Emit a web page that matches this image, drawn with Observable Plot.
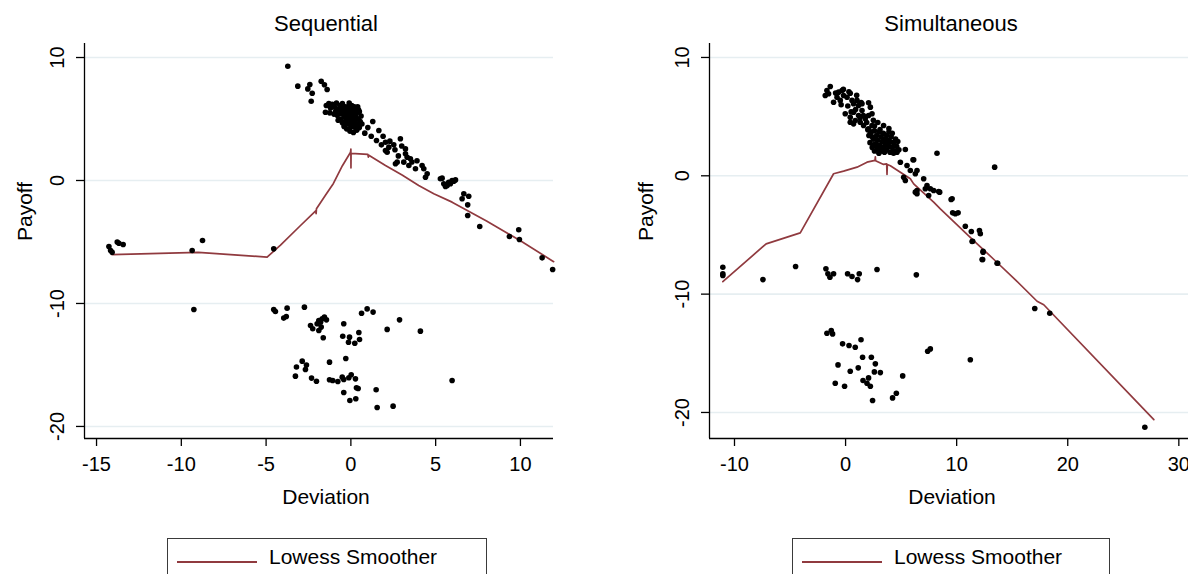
<!DOCTYPE html>
<html><head><meta charset="utf-8">
<script src="https://cdn.jsdelivr.net/npm/d3@7"></script>
<script src="https://cdn.jsdelivr.net/npm/@observablehq/plot@0.6"></script>
<style>
html,body{margin:0;padding:0;background:#fff;overflow:hidden;}
body{width:1188px;height:574px;font-family:"Liberation Sans",Arial,sans-serif;color:#000;}
#wrap{display:flex;width:1188px;}
.panel{width:594px;position:relative;flex:none;}
.title{height:43px;box-sizing:border-box;padding-top:12px;font-size:22px;line-height:24px;position:relative;white-space:nowrap;}
.title span{position:absolute;transform:translateX(-50%);}
.legend{position:relative;height:41px;}
.legbox{position:absolute;top:5px;height:46px;border:1px solid #3a3a3a;box-sizing:border-box;background:#fff;}
.legline{position:absolute;left:9px;top:22px;width:80px;height:2px;background:#903a3f;}
.legtext{position:absolute;left:101px;top:6px;font-size:21px;line-height:24px;white-space:nowrap;}
svg{overflow:visible;}
</style></head>
<body><div id="wrap"></div>
<script>
const titles = ["Sequential", "Simultaneous"];
const xLabel = "Deviation";
const yLabel = "Payoff";
const legendLabel = "Lowess Smoother";
const seqXTicks = [-15, -10, -5, 0, 5, 10];
const simXTicks = [-10, 0, 10, 20, 30];
const yTicks = [-20, -10, 0, 10];

const seqPoints = [
[-14.27,-5.37],[-14.17,-5.69],[-14.08,-5.83],[-13.78,-5.01],[-13.68,-5.1],[-13.43,-5.2],
[-9.36,-5.69],[-8.75,-4.88],[-9.26,-10.49],[-4.55,-5.56],[-4.55,-10.5],
[-3.72,9.29],[-3.13,7.67],[-2.42,7.8],[-2.54,7.45],[-2.28,7.1],[-2.34,6.45],[-1.75,8.07],[-1.56,7.78],[-1.40,7.40],
[-1.5,5.55],[-1.45,6.1],[-1.3,6.25],[-1.2,5.9],[-1.1,6.2],[-0.95,5.95],[-0.9,5.6],[-0.85,6.3],[-0.8,5.3],[-0.7,5.8],
[-0.65,6.1],[-0.6,5.0],[-0.55,5.45],[-0.5,6.25],[-0.5,4.7],[-0.45,5.9],[-0.4,5.2],[-0.4,4.4],[-0.35,5.6],[-0.3,6.0],
[-0.3,4.9],[-0.25,4.2],[-0.2,5.35],[-0.2,5.8],[-0.15,4.6],[-0.1,6.3],[-0.1,5.05],[-0.05,4.0],[-0.05,5.5],[0,4.8],
[0,5.9],[0,4.35],[0.05,5.2],[0.05,6.1],[0.1,4.55],[0.1,5.65],[0.15,3.9],[0.15,5.0],[0.2,5.4],[0.2,6.0],
[0.25,4.3],[0.25,4.75],[0.3,5.8],[0.3,5.15],[0.35,4.1],[0.35,5.5],[0.4,4.6],[0.4,6.0],[0.45,5.0],[0.5,4.3],
[0.5,5.6],[0.55,4.8],[0.6,5.25],[-0.25,5.0],[0.05,4.6],[-0.15,5.7],[0.2,4.95],[-0.35,4.7],[0.1,5.3],[0.3,4.5],
[-0.05,6.0],[0.45,5.75],[-0.6,5.6],[-1.0,5.4],[-0.75,4.9],[0.65,4.6],[-1.25,5.5],
[1.29,4.8],[0.82,3.85],[1.65,4.07],[1.51,3.25],[2.04,3.11],[2.24,2.71],[2.92,3.39],[2.53,2.9],[2.04,2.44],[3.22,2.57],
[3.32,1.89],[2.73,1.49],[3.81,0.95],[4.2,1.22],[4.4,0.27],[2.14,2.3],[2.63,1.36],[3.12,1.49],[3.51,1.76],[3.22,2.17],
[3.42,1.22],[4.3,0.95],[4.5,0.54],[1.0,4.3],[1.2,3.6],[1.9,3.6],[2.3,3.2],[1.8,2.9],[2.6,2.5],[2.8,2.0],[3.0,2.8],[3.6,1.5],[3.9,1.6],
[5.28,0.14],[5.48,-0.27],[5.58,-0.49],[5.77,-0.14],[6.07,-0.06],[5.87,-0.27],[5.38,0.19],[5.68,-0.41],[5.97,0],[6.17,0.05],
[6.66,-1.08],[6.56,-1.49],[6.95,-1.28],[6.89,-1.98],[6.89,-2.85],[7.6,-3.74],[9.35,-4.55],[9.9,-4.01],[9.94,-4.8],[11.28,-6.29],[11.9,-7.24],
[-4.45,-10.65],[-3.76,-10.38],[-3.96,-11.19],[-3.81,-11.06],[-2.74,-10.3],[-2.38,-11.79],[-2.25,-12.06],[-1.99,-11.65],[-1.89,-11.38],[-1.79,-11.52],
[-1.69,-11.24],[-1.56,-11.11],[-1.44,-11.33],[-1.89,-12.2],[-1.75,-11.92],[-1.63,-12.79],[-0.42,-11.65],[-0.48,-12.66],[-0.08,-12.74],[-0.14,-13.15],
[0.23,-13.23],[0.51,-12.93],[0.47,-12.36],[0.63,-10.79],[0.96,-10.44],[1.31,-10.7],[2.14,-12.11],[2.87,-11.33],[4.1,-12.25],
[-2.87,-14.69],[-2.62,-15.01],[-3.21,-15.17],[-2.68,-15.37],[-3.27,-15.91],[-2.32,-16.07],[-2.03,-16.32],[-1.26,-14.77],[-0.3,-14.47],[-1.26,-16.2],
[-1.07,-16.26],[-0.77,-16.34],[-0.51,-15.99],[-0.42,-16.18],[-0.12,-16.04],[0.02,-15.8],[0.27,-16.13],[0.33,-16.85],[0.43,-16.91],[-0.42,-17.24],
[1.49,-17.02],[-0.06,-17.89],[0.29,-17.75],[1.55,-18.46],[2.49,-18.35],[5.97,-16.26]
];
const seqSmooth = [
[-14.1,-6.02],[-9,-5.85],[-4.94,-6.23],[-4.15,-5.25],[-3,-3.7],[-2.06,-2.45],[-2.05,-2.7],[-2.03,-2.3],[-1.5,-1.2],[-1.03,-0.24],
[-0.5,1.2],[-0.02,2.3],[0,2.55],[0.005,1.03],[0.012,2.2],[1.0,2.12],[1.03,1.9],[1.06,2.05],[2.04,1.22],[3.02,0.45],
[4.0,-0.4],[4.89,-1.08],[5.97,-1.76],[8,-3.3],[10,-4.9],[11.96,-6.6]
];

const simPoints = [
[-11.05,-7.73],[-11.05,-8.28],[-11.05,-8.43],[-7.44,-8.77],[-4.5,-7.67],[-1.77,-7.86],[-1.59,-8.28],[-1.41,-8.57],[-1.08,-8.28],
[0.18,-8.28],[0.58,-8.51],[1.08,-8.77],[1.23,-8.28],[2.83,-7.92],[6.37,-8.37],
[-1.68,-13.3],[-1.29,-13.08],[-1.17,-13.36],[-0.27,-14.2],[0.31,-14.34],[0.87,-14.49],[1.39,-13.86],[-0.68,-15.98],[0.42,-16.52],
[1.14,-16.23],[1.53,-15.33],[2.32,-15.33],[2.68,-15.89],[2.59,-16.57],[3.13,-16.63],[2.07,-17.08],[1.57,-17.3],[1.93,-17.53],
[2.23,-17.79],[-0.93,-17.53],[-0.09,-17.79],[2.43,-18.99],[5.14,-16.91],[4.23,-18.77],[4.57,-18.38],[7.39,-14.83],[7.63,-14.63],
[11.23,-15.55],[26.94,-21.25],
[-1.83,6.79],[-1.68,7.21],[-1.38,7.55],[-1.53,6.93],[-1.08,6.22],[-0.77,6.64],[-0.63,7.07],[-0.32,7.21],[-0.48,6.37],[-0.18,6.79],
[0.13,6.64],[0.42,6.98],[0.58,6.37],[0.72,6.09],[1.03,6.37],[1.17,5.94],[1.48,6.09],[2.07,6.17],[2.23,5.8],
[-0.03,5.24],[0.42,4.95],[0.72,5.38],[0.87,4.67],[1.17,5.1],[1.48,5.52],[1.77,4.82],[2.07,5.1],[2.38,5.24],[0.72,4.39],
[1.32,4.53],[0.42,4.53],[1.62,4.25],[2.07,3.97],[2.38,4.25],[2.23,3.69],[3.42,4.25],
[0.9,5.6],[1.3,4.9],[1.9,4.5],[2.5,4.7],[2.0,3.9],[1.6,5.1],[0.2,5.9],[0.5,5.4],[-0.4,6.0],[-0.9,7.0],[-0.2,7.3],[0.3,7.1],
[1.0,6.8],[1.4,6.2],[2.6,4.2],[2.9,4.5],[3.9,4.0],
[2.1,3.4],[2.2,2.8],[2.3,3.7],[2.4,2.4],[2.5,3.1],[2.6,3.8],[2.6,2.1],[2.7,2.7],[2.8,3.4],[2.9,2.3],
[2.9,3.0],[3.0,3.7],[3.0,1.9],[3.1,2.6],[3.2,3.3],[3.2,2.1],[3.3,2.9],[3.4,3.6],[3.4,2.4],[3.5,3.1],
[3.5,2.0],[3.6,2.7],[3.7,3.4],[3.7,2.2],[3.8,3.0],[3.9,2.5],[3.9,3.7],[4.0,2.0],[4.0,2.9],[4.1,3.3],
[4.2,2.4],[4.3,2.8],[4.4,2.1],[4.5,3.1],[4.6,2.5],[4.7,2.9],[4.8,2.2],[2.8,2.5],[3.3,2.3],[3.6,3.0],
[2.4,3.3],[3.1,3.9],[4.2,3.6],[3.8,2.6],[2.5,2.6],
[4.93,1.15],[5.53,0.87],[6.13,1.35],[5.83,0.45],[6.43,0.45],[6.28,0.17],[5.23,-0.12],[7.03,-0.25],[7.33,-0.82],[7.18,-1.1],
[7.93,-1.24],[8.38,-1.33],[6.43,-1.24],[7.48,-1.67],[9.59,-1.94],[5.38,2.22],[8.23,1.91],[4.63,2.0],[13.42,0.73],[9.5,-2.0],
[9.64,-3.13],[9.88,-3.21],[10.13,-3.13],[10.78,-4.26],[11.32,-4.71],[12.05,-4.62],[12.13,-4.9],[11.44,-5.53],[12.38,-6.37],[12.34,-7.07],
[13.64,-7.39],[11.39,-5.55],[12.38,-6.46],[12.29,-7.07],[13.69,-7.39],[17.03,-11.22],[18.38,-11.61],[5.38,-0.4],[6.28,-1.38],[6.43,-1.52],
[7.63,-1.1],[8.47,-1.38],[4.32,1.91],[6.07,1.35]
];
const simSmooth = [
[-11.05,-8.94],[-7.15,-5.75],[-4.08,-4.82],[-1.08,0.17],[-0.18,0.39],[1.03,0.73],[1.93,1.15],[2.65,1.3],[2.68,1.6],[2.7,1.28],
[3.42,0.96],[3.7,1.0],[3.73,0.11],[3.76,0.95],[4.03,0.85],[4.93,0.3],[5.83,-0.25],[6.13,-0.68],[7.93,-2.23],[8.53,-2.8],
[11.53,-5.47],[13.5,-7.2],[15.29,-8.79],[17.24,-10.6],[17.84,-10.9],[27.75,-20.6]
];

const panels = [
  {title: titles[0], titleX: 326, points: seqPoints, smooth: seqSmooth, xTicks: seqXTicks,
   xDomain: [-15.71, 11.95], yDomain: [-20.98, 11.14], marginLeft: 84, marginRight: 41,
   xLabelDx: 7, yLabelDx: -59, legLeft: 167, legWidth: 320},
  {title: titles[1], titleX: 357, points: simPoints, smooth: simSmooth, xTicks: simXTicks,
   xDomain: [-12.25, 30.87], yDomain: [-22.2, 11.18], marginLeft: 115, marginRight: 0,
   xLabelDx: 3, yLabelDx: -63, legLeft: 198, legWidth: 318}
];

const fmt = d => String(d);
const wrap = document.getElementById("wrap");
for (const p of panels) {
  const div = document.createElement("div");
  div.className = "panel";
  const t = document.createElement("div");
  t.className = "title";
  const ts = document.createElement("span");
  ts.style.left = p.titleX + "px";
  ts.textContent = p.title;
  t.appendChild(ts);
  div.appendChild(t);

  const chart = Plot.plot({
    width: 594, height: 490,
    marginLeft: p.marginLeft, marginRight: p.marginRight, marginTop: 0, marginBottom: 95,
    x: {domain: p.xDomain},
    y: {domain: p.yDomain},
    style: {fontFamily: "'Liberation Sans', Arial, sans-serif", fontSize: "20px", color: "#000", background: "transparent", overflow: "visible"},
    marks: [
      Plot.gridY(yTicks, {stroke: "#e6eef1", strokeOpacity: 1, strokeWidth: 1.6}),
      Plot.ruleX([p.xDomain[0]], {stroke: "#000", strokeWidth: 1.3}),
      Plot.ruleY([p.yDomain[0]], {stroke: "#000", strokeWidth: 1.3}),
      Plot.axisX(p.xTicks, {tickSize: 8, tickPadding: 10, tickFormat: fmt, label: null, fontSize: 20, strokeWidth: 1.3}),
      Plot.axisY(yTicks, {tickSize: 8, tickRotate: -90, tickPadding: 13, tickFormat: fmt, label: null, fontSize: 20, strokeWidth: 1.3}),
      Plot.text([xLabel], {frameAnchor: "bottom", dy: 65, dx: p.xLabelDx, fontSize: 21}),
      Plot.text([yLabel], {frameAnchor: "left", dx: p.yLabelDx, rotate: -90, fontSize: 21}),
      Plot.line(p.smooth, {x: d => d[0], y: d => d[1], stroke: "#903a3f", strokeWidth: 1.7}),
      Plot.dot(p.points, {x: d => d[0], y: d => d[1], r: 2.8, fill: "#000", stroke: "none"})
    ]
  });
  div.appendChild(chart);

  const leg = document.createElement("div");
  leg.className = "legend";
  const box = document.createElement("div");
  box.className = "legbox";
  box.style.left = p.legLeft + "px";
  box.style.width = p.legWidth + "px";
  const ln = document.createElement("div");
  ln.className = "legline";
  const tx = document.createElement("div");
  tx.className = "legtext";
  tx.textContent = legendLabel;
  box.appendChild(ln); box.appendChild(tx);
  leg.appendChild(box);
  div.appendChild(leg);
  wrap.appendChild(div);
}
</script>
</body></html>
